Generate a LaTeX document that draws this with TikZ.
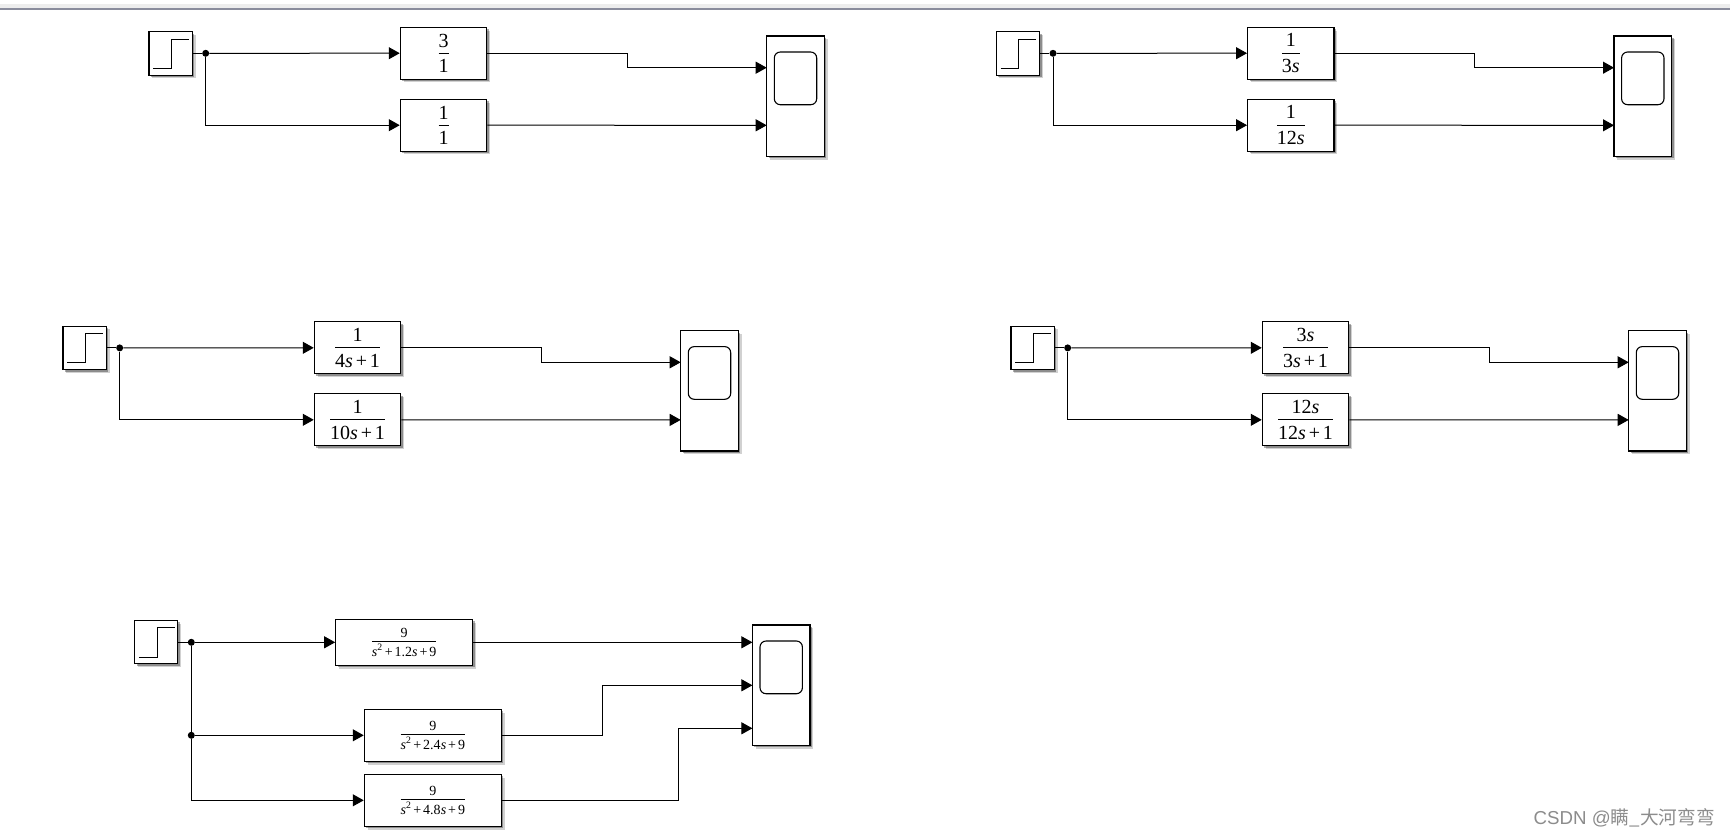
\documentclass[tikz,border=0pt]{standalone}
\usepackage{fontspec}
\setmainfont{Liberation Serif}
\newfontfamily\cjk{Noto Sans CJK SC}
\newfontfamily\wm{Liberation Sans}
\usetikzlibrary{arrows.meta,calc}
\definecolor{barblue}{RGB}{138,140,156}
\newcommand{\fr}[2]{$\displaystyle{\hbox{\lower0.14em\hbox{#1}}\above0.8pt\hbox{#2}}$}
\newcommand{\si}{\textit{s}}
\newcommand{\pl}{\hspace{0.14em}+\hspace{0.14em}}
\newcommand{\tfsize}{\fontsize{20}{22}\selectfont}
\newcommand{\tfsmall}{\fontsize{14}{16}\selectfont}
\tikzset{
  shade box/.style={draw=black,line width=1.1pt,fill=white,inner sep=0pt,
    preaction={draw=none,fill=black,fill opacity=.18,transform canvas={shift={(3.2,3.2)}}},
    preaction={draw=none,fill=black,fill opacity=.32,transform canvas={shift={(2,2)}}}},
  stepblock/.style={shade box,minimum width=43.4pt,minimum height=43.4pt},
  gainblock/.style={shade box,minimum width=86.4pt,minimum height=51.8pt,font=\tfsize},
  widegain/.style={shade box,minimum width=137pt,minimum height=52pt,font=\tfsmall},
  scopeblock/.style={shade box,minimum width=57.6pt,minimum height=120.4pt},
  screen/.style={draw=black,line width=1.1pt,rounded corners=6pt,fill=white,minimum width=42.4pt,minimum height=52.7pt,inner sep=0pt},
  joint/.style={circle,fill=black,inner sep=0pt,minimum size=7pt},
  sig/.style={line width=1pt,draw=black,-{Triangle[length=11pt,width=12pt]}},
  wire/.style={line width=1pt,draw=black},
}
% #1 suffix, #2 dx, #3 dy, #4 upper gain, #5 lower gain
\newcommand{\twoway}[5]{%
  \begin{scope}[shift={(#2,#3)}]
    \node[stepblock] (st#1) at (170.65,53.35) {};
    \draw[wire] ($(st#1.center)+(-17.4,15)$) -- ++(18.4,0) -- ++(0,-29.3) -- ++(17.3,0);
    \node[joint] (j#1) at (205.7,53.3) {};
    \node[gainblock] (ga#1) at (443.5,53.2) {#4};
    \node[gainblock] (gb#1) at (443.5,125.2) {#5};
    \node[scopeblock] (sc#1) at (795.5,96.2) {};
    \node[screen] (sr#1) at (795.5,78.35) {};
    \coordinate (pa#1) at (766.7,67.7);
    \coordinate (pb#1) at (766.7,125.3);
    \coordinate (bd#1) at (627.3,67.7);
    \draw[wire] (st#1.east |- j#1) -- (j#1);
    \draw[sig] (j#1) -- (ga#1.west);
    \draw[sig] (j#1) |- (gb#1.west);
    \draw[sig] (ga#1.east) -| (bd#1) -- (pa#1);
    \draw[sig] (gb#1.east) -- (pb#1);
  \end{scope}}
\begin{document}
\begin{tikzpicture}[x=1pt,y=-1pt]
\useasboundingbox (0,0) rectangle (1730,836);
\fill[white] (0,0) rectangle (1730,836);
\fill[black!7] (0,4) rectangle (1730,7.5);
\fill[barblue] (0,8) rectangle (1730,10);
\twoway{a}{0}{0}{\fr{3}{1}}{\fr{1}{1}}
\twoway{b}{847.3}{0}{\fr{1}{3\si}}{\fr{1}{12\si}}
\twoway{c}{-86}{294.6}{\fr{1}{4\si\pl1}}{\fr{1}{10\si\pl1}}
\twoway{d}{862}{294.6}{\fr{3\si}{3\si\pl1}}{\fr{12\si}{12\si\pl1}}
% lower group
\node[stepblock] (st) at (156.2,642) {};
\draw[wire] ($(st.center)+(-17.4,15)$) -- ++(18.4,0) -- ++(0,-29.3) -- ++(17.3,0);
\node[joint] (j1) at (191.3,642.3) {};
\node[joint] (j2) at (191.3,735.3) {};
\node[widegain,minimum height=46pt] (g1) at (404.2,642.3) {\fr{9}{\si\textsuperscript{2}\pl1.2\si\pl9}};
\node[widegain] (g2) at (432.8,735.3) {\fr{9}{\si\textsuperscript{2}\pl2.4\si\pl9}};
\node[widegain] (g3) at (432.8,800.3) {\fr{9}{\si\textsuperscript{2}\pl4.8\si\pl9}};
\node[scopeblock] (sc) at (781.2,685.2) {};
\node[screen] (sr) at (781.2,667.35) {};
\coordinate (p1) at (752.4,642.3);
\coordinate (p2) at (752.4,685.3);
\coordinate (p3) at (752.4,728.3);
\coordinate (bd2) at (602.4,685.3);
\coordinate (bd3) at (678.5,728.3);
\draw[wire] (st.east |- j1) -- (j1);
\draw[sig] (j1) -- (g1.west);
\draw[wire] (j1) -- (j2);
\draw[sig] (j2) -- (g2.west);
\draw[sig] (j2) |- (g3.west);
\draw[sig] (g1.east) -- (p1);
\draw[sig] (g2.east) -| (bd2) -- (p2);
\draw[sig] (g3.east) -| (bd3) -- (p3);
\node[anchor=east,inner sep=0pt,text=black!45,font=\fontsize{18.7}{21}\selectfont] (mark) at (1715,818) {\wm CSDN @\cjk 瞒\_大河弯弯};
\end{tikzpicture}
\end{document}
